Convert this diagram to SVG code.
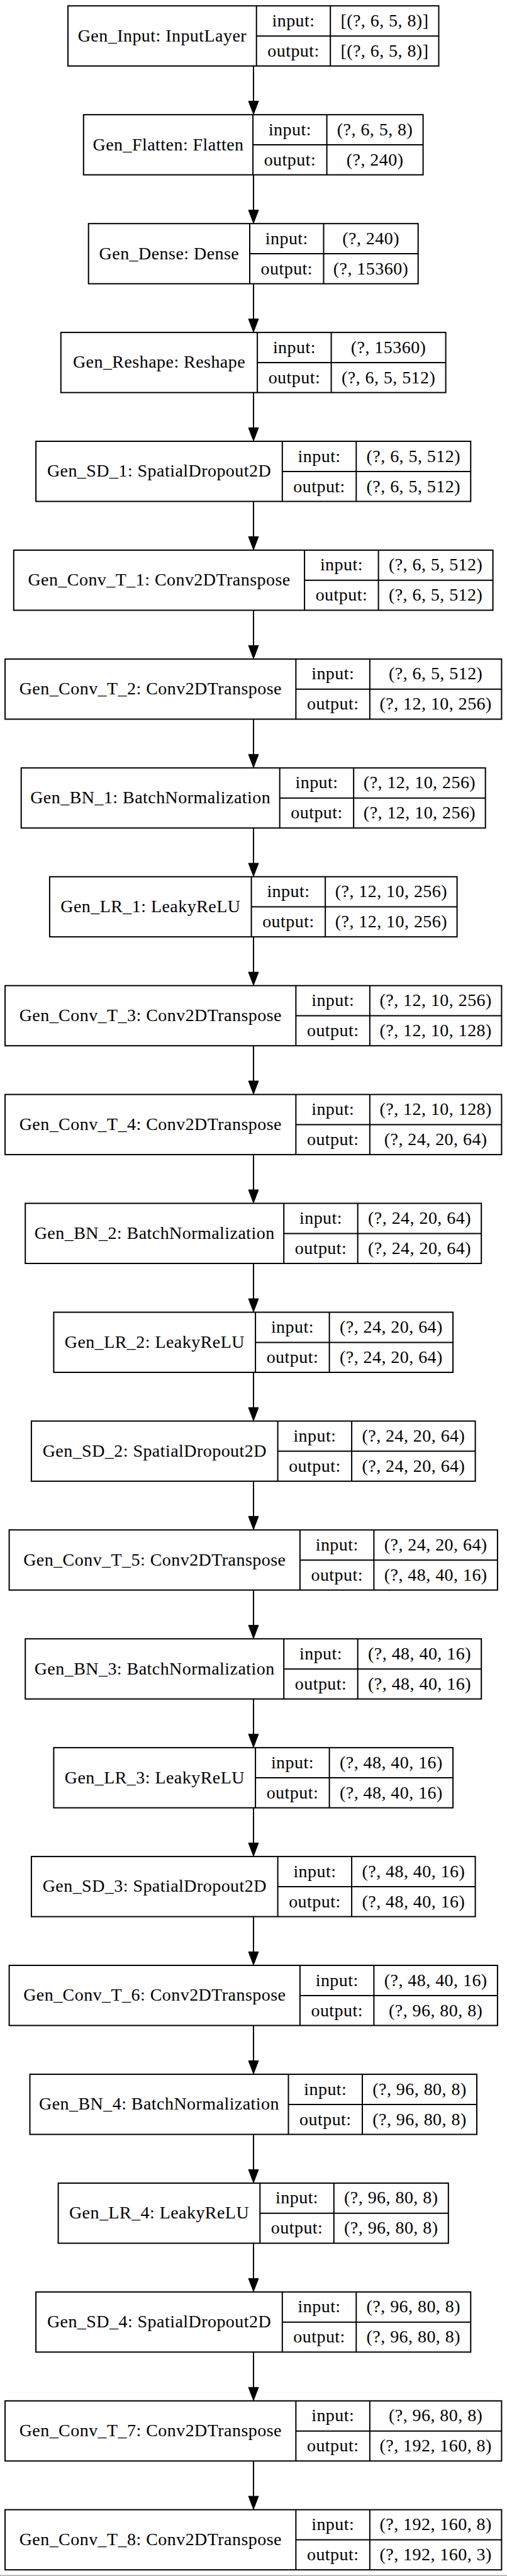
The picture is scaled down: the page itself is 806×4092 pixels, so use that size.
<svg xmlns="http://www.w3.org/2000/svg" width="806" height="4092" viewBox="0 0 806 4092">
<style>
.n rect{fill:#fff;stroke:#000;stroke-width:2}
.n path{fill:none;stroke:#000;stroke-width:2}
text{font-family:"Liberation Serif","Times New Roman",serif;font-size:28px;letter-spacing:0.45px;text-anchor:middle;fill:#000}
.e line{stroke:#000;stroke-width:2}
</style>
<defs>
<marker id="ah" markerUnits="userSpaceOnUse" markerWidth="24" markerHeight="18" refX="1" refY="9" orient="auto" overflow="visible"><path d="M1,1 L22,9 L1,17 z" fill="#000" stroke="#000" stroke-width="1"/></marker>
</defs>
<rect x="0" y="0" width="806" height="4092" fill="#fff"/>
<rect x="0" y="4090.5" width="806" height="1.5" fill="#a8a8a8"/>

<g class="e" id="connectors">
<line x1="403" y1="104.8" x2="403" y2="160.7" marker-end="url(#ah)"/>
<line x1="403" y1="277.7" x2="403" y2="333.7" marker-end="url(#ah)"/>
<line x1="403" y1="450.7" x2="403" y2="506.6" marker-end="url(#ah)"/>
<line x1="403" y1="623.6" x2="403" y2="679.5" marker-end="url(#ah)"/>
<line x1="403" y1="796.5" x2="403" y2="852.4" marker-end="url(#ah)"/>
<line x1="403" y1="969.4" x2="403" y2="1025.4" marker-end="url(#ah)"/>
<line x1="403" y1="1142.4" x2="403" y2="1198.3" marker-end="url(#ah)"/>
<line x1="403" y1="1315.3" x2="403" y2="1371.2" marker-end="url(#ah)"/>
<line x1="403" y1="1488.2" x2="403" y2="1544.2" marker-end="url(#ah)"/>
<line x1="403" y1="1661.2" x2="403" y2="1717.1" marker-end="url(#ah)"/>
<line x1="403" y1="1834.1" x2="403" y2="1890.0" marker-end="url(#ah)"/>
<line x1="403" y1="2007.0" x2="403" y2="2063.0" marker-end="url(#ah)"/>
<line x1="403" y1="2180.0" x2="403" y2="2235.9" marker-end="url(#ah)"/>
<line x1="403" y1="2352.9" x2="403" y2="2408.8" marker-end="url(#ah)"/>
<line x1="403" y1="2525.8" x2="403" y2="2581.8" marker-end="url(#ah)"/>
<line x1="403" y1="2698.8" x2="403" y2="2754.7" marker-end="url(#ah)"/>
<line x1="403" y1="2871.7" x2="403" y2="2927.6" marker-end="url(#ah)"/>
<line x1="403" y1="3044.6" x2="403" y2="3100.5" marker-end="url(#ah)"/>
<line x1="403" y1="3217.5" x2="403" y2="3273.5" marker-end="url(#ah)"/>
<line x1="403" y1="3390.5" x2="403" y2="3446.4" marker-end="url(#ah)"/>
<line x1="403" y1="3563.4" x2="403" y2="3619.3" marker-end="url(#ah)"/>
<line x1="403" y1="3736.3" x2="403" y2="3792.3" marker-end="url(#ah)"/>
<line x1="403" y1="3909.3" x2="403" y2="3965.2" marker-end="url(#ah)"/>
</g>

<g class="n" id="Gen_Input" transform="translate(0,9.3)">
<rect x="108" y="0" width="589.5" height="95.5"/>
<path d="M407.7,0V95.5M525.2,0V95.5M407.7,47.9H697.5"/>
<text x="257.9" y="56.4">Gen_Input: InputLayer</text>
<text x="466.5" y="32.5">input:</text><text x="466.5" y="80.5">output:</text>
<text x="611.4" y="32.5">[(?, 6, 5, 8)]</text><text x="611.4" y="80.5">[(?, 6, 5, 8)]</text>
</g>

<g class="n" id="Gen_Flatten" transform="translate(0,182.2)">
<rect x="132.8" y="0" width="539.8" height="95.5"/>
<path d="M402.1,0V95.5M519.6,0V95.5M402.1,47.9H672.6"/>
<text x="267.5" y="56.4">Gen_Flatten: Flatten</text>
<text x="460.9" y="32.5">input:</text><text x="460.9" y="80.5">output:</text>
<text x="596.1" y="32.5">(?, 6, 5, 8)</text><text x="596.1" y="80.5">(?, 240)</text>
</g>

<g class="n" id="Gen_Dense" transform="translate(0,355.2)">
<rect x="140.7" y="0" width="524" height="95.5"/>
<path d="M397,0V95.5M514.5,0V95.5M397,47.9H664.7"/>
<text x="268.9" y="56.4">Gen_Dense: Dense</text>
<text x="455.8" y="32.5">input:</text><text x="455.8" y="80.5">output:</text>
<text x="589.6" y="32.5">(?, 240)</text><text x="589.6" y="80.5">(?, 15360)</text>
</g>

<g class="n" id="Gen_Reshape" transform="translate(0,528.1)">
<rect x="96.8" y="0" width="611.8" height="95.5"/>
<path d="M409.1,0V95.5M526.6,0V95.5M409.1,47.9H708.6"/>
<text x="253" y="56.4">Gen_Reshape: Reshape</text>
<text x="467.9" y="32.5">input:</text><text x="467.9" y="80.5">output:</text>
<text x="617.6" y="32.5">(?, 15360)</text><text x="617.6" y="80.5">(?, 6, 5, 512)</text>
</g>

<g class="n" id="Gen_SD_1" transform="translate(0,701)">
<rect x="57.1" y="0" width="691.2" height="95.5"/>
<path d="M448.8,0V95.5M566.3,0V95.5M448.8,47.9H748.3"/>
<text x="253" y="56.4">Gen_SD_1: SpatialDropout2D</text>
<text x="507.6" y="32.5">input:</text><text x="507.6" y="80.5">output:</text>
<text x="657.3" y="32.5">(?, 6, 5, 512)</text><text x="657.3" y="80.5">(?, 6, 5, 512)</text>
</g>

<g class="n" id="Gen_Conv_T_1" transform="translate(0,873.9)">
<rect x="21.8" y="0" width="761.8" height="95.5"/>
<path d="M484.1,0V95.5M601.6,0V95.5M484.1,47.9H783.6"/>
<text x="253" y="56.4">Gen_Conv_T_1: Conv2DTranspose</text>
<text x="542.9" y="32.5">input:</text><text x="542.9" y="80.5">output:</text>
<text x="692.6" y="32.5">(?, 6, 5, 512)</text><text x="692.6" y="80.5">(?, 6, 5, 512)</text>
</g>

<g class="n" id="Gen_Conv_T_2" transform="translate(0,1046.9)">
<rect x="8.1" y="0" width="789.3" height="95.5"/>
<path d="M470.4,0V95.5M587.9,0V95.5M470.4,47.9H797.4"/>
<text x="239.3" y="56.4">Gen_Conv_T_2: Conv2DTranspose</text>
<text x="529.2" y="32.5">input:</text><text x="529.2" y="80.5">output:</text>
<text x="692.7" y="32.5">(?, 6, 5, 512)</text><text x="692.7" y="80.5">(?, 12, 10, 256)</text>
</g>

<g class="n" id="Gen_BN_1" transform="translate(0,1219.8)">
<rect x="33.7" y="0" width="738" height="95.5"/>
<path d="M444.7,0V95.5M562.2,0V95.5M444.7,47.9H771.7"/>
<text x="239.2" y="56.4">Gen_BN_1: BatchNormalization</text>
<text x="503.5" y="32.5">input:</text><text x="503.5" y="80.5">output:</text>
<text x="667" y="32.5">(?, 12, 10, 256)</text><text x="667" y="80.5">(?, 12, 10, 256)</text>
</g>

<g class="n" id="Gen_LR_1" transform="translate(0,1392.7)">
<rect x="78.9" y="0" width="647.7" height="95.5"/>
<path d="M399.6,0V95.5M517.1,0V95.5M399.6,47.9H726.6"/>
<text x="239.3" y="56.4">Gen_LR_1: LeakyReLU</text>
<text x="458.4" y="32.5">input:</text><text x="458.4" y="80.5">output:</text>
<text x="621.9" y="32.5">(?, 12, 10, 256)</text><text x="621.9" y="80.5">(?, 12, 10, 256)</text>
</g>

<g class="n" id="Gen_Conv_T_3" transform="translate(0,1565.7)">
<rect x="8.1" y="0" width="789.3" height="95.5"/>
<path d="M470.4,0V95.5M587.9,0V95.5M470.4,47.9H797.4"/>
<text x="239.3" y="56.4">Gen_Conv_T_3: Conv2DTranspose</text>
<text x="529.2" y="32.5">input:</text><text x="529.2" y="80.5">output:</text>
<text x="692.7" y="32.5">(?, 12, 10, 256)</text><text x="692.7" y="80.5">(?, 12, 10, 128)</text>
</g>

<g class="n" id="Gen_Conv_T_4" transform="translate(0,1738.6)">
<rect x="8.1" y="0" width="789.3" height="95.5"/>
<path d="M470.4,0V95.5M587.9,0V95.5M470.4,47.9H797.4"/>
<text x="239.3" y="56.4">Gen_Conv_T_4: Conv2DTranspose</text>
<text x="529.2" y="32.5">input:</text><text x="529.2" y="80.5">output:</text>
<text x="692.7" y="32.5">(?, 12, 10, 128)</text><text x="692.7" y="80.5">(?, 24, 20, 64)</text>
</g>

<g class="n" id="Gen_BN_2" transform="translate(0,1911.5)">
<rect x="40.2" y="0" width="725" height="95.5"/>
<path d="M451.2,0V95.5M568.7,0V95.5M451.2,47.9H765.2"/>
<text x="245.7" y="56.4">Gen_BN_2: BatchNormalization</text>
<text x="510" y="32.5">input:</text><text x="510" y="80.5">output:</text>
<text x="667" y="32.5">(?, 24, 20, 64)</text><text x="667" y="80.5">(?, 24, 20, 64)</text>
</g>

<g class="n" id="Gen_LR_2" transform="translate(0,2084.5)">
<rect x="85.4" y="0" width="634.7" height="95.5"/>
<path d="M406.1,0V95.5M523.6,0V95.5M406.1,47.9H720.1"/>
<text x="245.8" y="56.4">Gen_LR_2: LeakyReLU</text>
<text x="464.9" y="32.5">input:</text><text x="464.9" y="80.5">output:</text>
<text x="621.9" y="32.5">(?, 24, 20, 64)</text><text x="621.9" y="80.5">(?, 24, 20, 64)</text>
</g>

<g class="n" id="Gen_SD_2" transform="translate(0,2257.4)">
<rect x="49.9" y="0" width="705.7" height="95.5"/>
<path d="M441.6,0V95.5M559.1,0V95.5M441.6,47.9H755.6"/>
<text x="245.8" y="56.4">Gen_SD_2: SpatialDropout2D</text>
<text x="500.4" y="32.5">input:</text><text x="500.4" y="80.5">output:</text>
<text x="657.4" y="32.5">(?, 24, 20, 64)</text><text x="657.4" y="80.5">(?, 24, 20, 64)</text>
</g>

<g class="n" id="Gen_Conv_T_5" transform="translate(0,2430.3)">
<rect x="14.6" y="0" width="776.3" height="95.5"/>
<path d="M476.9,0V95.5M594.4,0V95.5M476.9,47.9H790.9"/>
<text x="245.8" y="56.4">Gen_Conv_T_5: Conv2DTranspose</text>
<text x="535.7" y="32.5">input:</text><text x="535.7" y="80.5">output:</text>
<text x="692.7" y="32.5">(?, 24, 20, 64)</text><text x="692.7" y="80.5">(?, 48, 40, 16)</text>
</g>

<g class="n" id="Gen_BN_3" transform="translate(0,2603.3)">
<rect x="40.2" y="0" width="725" height="95.5"/>
<path d="M451.2,0V95.5M568.7,0V95.5M451.2,47.9H765.2"/>
<text x="245.7" y="56.4">Gen_BN_3: BatchNormalization</text>
<text x="510" y="32.5">input:</text><text x="510" y="80.5">output:</text>
<text x="667" y="32.5">(?, 48, 40, 16)</text><text x="667" y="80.5">(?, 48, 40, 16)</text>
</g>

<g class="n" id="Gen_LR_3" transform="translate(0,2776.2)">
<rect x="85.4" y="0" width="634.7" height="95.5"/>
<path d="M406.1,0V95.5M523.6,0V95.5M406.1,47.9H720.1"/>
<text x="245.8" y="56.4">Gen_LR_3: LeakyReLU</text>
<text x="464.9" y="32.5">input:</text><text x="464.9" y="80.5">output:</text>
<text x="621.9" y="32.5">(?, 48, 40, 16)</text><text x="621.9" y="80.5">(?, 48, 40, 16)</text>
</g>

<g class="n" id="Gen_SD_3" transform="translate(0,2949.1)">
<rect x="49.9" y="0" width="705.7" height="95.5"/>
<path d="M441.6,0V95.5M559.1,0V95.5M441.6,47.9H755.6"/>
<text x="245.8" y="56.4">Gen_SD_3: SpatialDropout2D</text>
<text x="500.4" y="32.5">input:</text><text x="500.4" y="80.5">output:</text>
<text x="657.4" y="32.5">(?, 48, 40, 16)</text><text x="657.4" y="80.5">(?, 48, 40, 16)</text>
</g>

<g class="n" id="Gen_Conv_T_6" transform="translate(0,3122)">
<rect x="14.6" y="0" width="776.3" height="95.5"/>
<path d="M476.9,0V95.5M594.4,0V95.5M476.9,47.9H790.9"/>
<text x="245.8" y="56.4">Gen_Conv_T_6: Conv2DTranspose</text>
<text x="535.7" y="32.5">input:</text><text x="535.7" y="80.5">output:</text>
<text x="692.7" y="32.5">(?, 48, 40, 16)</text><text x="692.7" y="80.5">(?, 96, 80, 8)</text>
</g>

<g class="n" id="Gen_BN_4" transform="translate(0,3295)">
<rect x="47.5" y="0" width="710.5" height="95.5"/>
<path d="M458.5,0V95.5M576,0V95.5M458.5,47.9H758"/>
<text x="253" y="56.4">Gen_BN_4: BatchNormalization</text>
<text x="517.3" y="32.5">input:</text><text x="517.3" y="80.5">output:</text>
<text x="667" y="32.5">(?, 96, 80, 8)</text><text x="667" y="80.5">(?, 96, 80, 8)</text>
</g>

<g class="n" id="Gen_LR_4" transform="translate(0,3467.9)">
<rect x="92.6" y="0" width="620.2" height="95.5"/>
<path d="M413.3,0V95.5M530.8,0V95.5M413.3,47.9H712.8"/>
<text x="253" y="56.4">Gen_LR_4: LeakyReLU</text>
<text x="472.1" y="32.5">input:</text><text x="472.1" y="80.5">output:</text>
<text x="621.8" y="32.5">(?, 96, 80, 8)</text><text x="621.8" y="80.5">(?, 96, 80, 8)</text>
</g>

<g class="n" id="Gen_SD_4" transform="translate(0,3640.8)">
<rect x="57.1" y="0" width="691.2" height="95.5"/>
<path d="M448.8,0V95.5M566.3,0V95.5M448.8,47.9H748.3"/>
<text x="253" y="56.4">Gen_SD_4: SpatialDropout2D</text>
<text x="507.6" y="32.5">input:</text><text x="507.6" y="80.5">output:</text>
<text x="657.3" y="32.5">(?, 96, 80, 8)</text><text x="657.3" y="80.5">(?, 96, 80, 8)</text>
</g>

<g class="n" id="Gen_Conv_T_7" transform="translate(0,3813.8)">
<rect x="8.1" y="0" width="789.3" height="95.5"/>
<path d="M470.4,0V95.5M587.9,0V95.5M470.4,47.9H797.4"/>
<text x="239.3" y="56.4">Gen_Conv_T_7: Conv2DTranspose</text>
<text x="529.2" y="32.5">input:</text><text x="529.2" y="80.5">output:</text>
<text x="692.7" y="32.5">(?, 96, 80, 8)</text><text x="692.7" y="80.5">(?, 192, 160, 8)</text>
</g>

<g class="n" id="Gen_Conv_T_8" transform="translate(0,3986.7)">
<rect x="8.1" y="0" width="789.3" height="95.5"/>
<path d="M470.4,0V95.5M587.9,0V95.5M470.4,47.9H797.4"/>
<text x="239.3" y="56.4">Gen_Conv_T_8: Conv2DTranspose</text>
<text x="529.2" y="32.5">input:</text><text x="529.2" y="80.5">output:</text>
<text x="692.7" y="32.5">(?, 192, 160, 8)</text><text x="692.7" y="80.5">(?, 192, 160, 3)</text>
</g>
</svg>
